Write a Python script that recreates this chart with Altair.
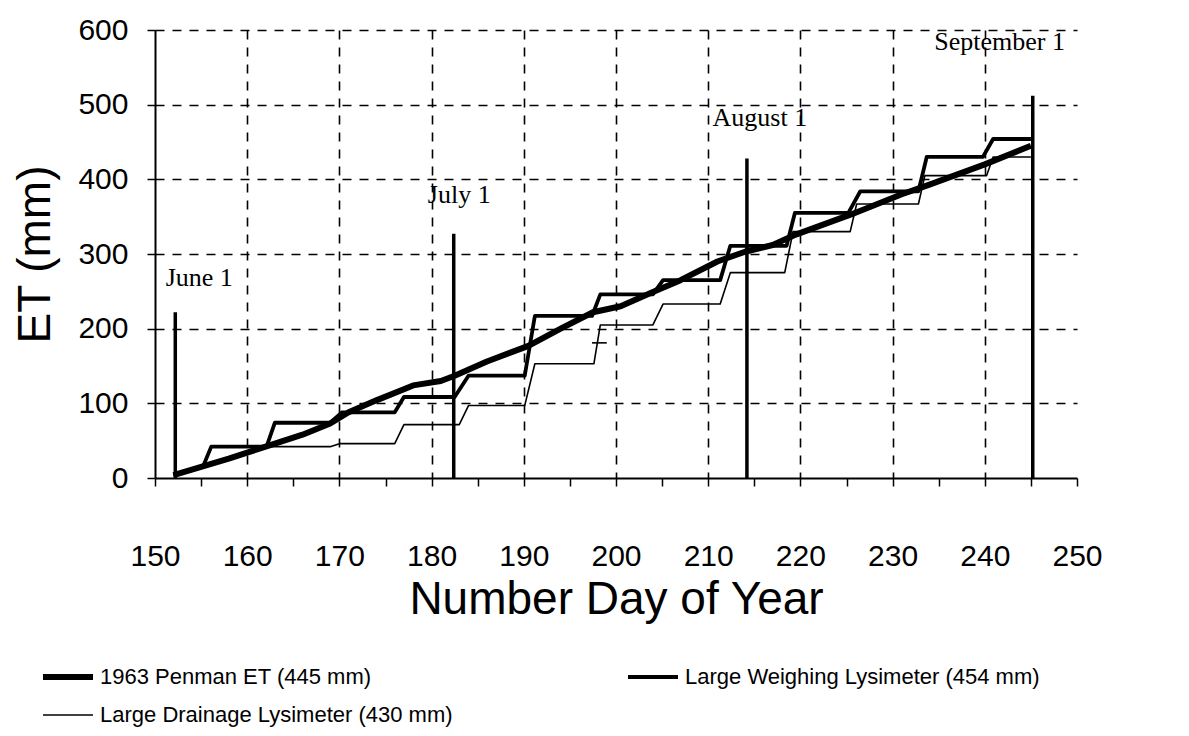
import altair as alt
import pandas as pd

# ---------------- data ----------------
series_names = [
    "1963 Penman ET (445 mm)",
    "Large Weighing Lysimeter (454 mm)",
    "Large Drainage Lysimeter (430 mm)",
]
# order in which the legend lists entries (filled column by column)
legend_order = [series_names[0], series_names[2], series_names[1]]

penman_day = [152, 155, 158, 160, 162, 166, 169, 171, 174, 178, 181, 182.5, 186, 190.5,
              194, 197.5, 200.5, 204, 207, 211, 214, 217, 219.5, 225.5, 231, 234, 240, 245]
penman_mm = [4, 15, 26, 34, 42, 58, 73, 88, 104, 124, 130, 137, 156, 177,
             200, 222, 230, 249, 265, 290, 303, 312, 326, 353, 380, 393, 420, 445]

weigh_day = [152, 155.2, 156.1, 162.1, 163, 169, 170.3, 176, 177, 182.5, 184, 190.1, 191.2,
             197.4, 198.3, 204, 205.1, 211.3, 212.4, 218.5, 219.4, 225.2, 226.5, 232.8,
             233.7, 239.8, 240.9, 245]
weigh_mm = [4, 15, 42, 42, 74, 74, 88, 88, 108.5, 108.5, 137, 137, 217,
            217, 246, 246, 265, 265, 311, 311, 355, 355, 384, 384,
            430, 430, 454, 454]

drain_day = [152, 155.2, 156.1, 169, 170, 176, 177, 183, 184, 190.1, 191.2, 197.6, 198.3,
             204, 205.1, 211.3, 212.4, 218.3, 219.2, 225.4, 226.1, 232.8, 233.5, 240.2,
             240.9, 245]
drain_mm = [4, 15, 42, 42, 46, 46, 71.5, 71.5, 97, 97, 153, 153, 205,
            205, 233, 233, 275, 275, 330, 330, 367, 367, 405, 405,
            430, 430]

drain_extra_day = [197.4, 199.0]
drain_extra_mm = [181, 181]

month_day = [152.2, 182.4, 214.2, 245.2]
month_top = [222, 327, 428, 512]
month_label = ["June 1", "July 1", "August 1", "September 1"]
label_day = [154.8, 183.0, 215.6, 241.6]
label_mm = [268, 379, 482, 584]

x_ticks = list(range(150, 251, 5))
y_ticks = list(range(0, 601, 100))

# ---------------- tables ----------------
rows = []
idx = 0
for d, m in zip(drain_day, drain_mm):
    rows.append({"series": series_names[2], "seg": "d1", "day": d, "mm": m, "i": idx}); idx += 1
for d, m in zip(drain_extra_day, drain_extra_mm):
    rows.append({"series": series_names[2], "seg": "d2", "day": d, "mm": m, "i": idx}); idx += 1
for d, m in zip(weigh_day, weigh_mm):
    rows.append({"series": series_names[1], "seg": "w1", "day": d, "mm": m, "i": idx}); idx += 1
for d, m in zip(penman_day, penman_mm):
    rows.append({"series": series_names[0], "seg": "p1", "day": d, "mm": m, "i": idx}); idx += 1
line_df = pd.DataFrame(rows)

month_df = pd.DataFrame({"day": month_day, "top": month_top, "base": [0] * 4,
                         "label": month_label, "lx": label_day, "ly": label_mm})

FONT = "Liberation Sans"
x_scale = alt.Scale(domain=[150, 250], nice=False, zero=False)
y_scale = alt.Scale(domain=[0, 600], nice=False)

x_axis = alt.Axis(
    values=x_ticks,
    labelExpr="datum.value % 10 == 0 ? datum.label : ''",
    labelOverlap=False,
    labelFlush=False,
    title="Number Day of Year",
    grid=True,
    gridOpacity={"condition": {"test": "datum.value % 10 == 0 && datum.value > 150 && datum.value < 250",
                               "value": 1}, "value": 0},
    labelPadding=55,
    titlePadding=6,
)
y_axis = alt.Axis(
    values=y_ticks,
    title="ET  (mm)",
    grid=True,
    gridOpacity={"condition": {"test": "datum.value > 0", "value": 1}, "value": 0},
    labelPadding=19,
    titlePadding=18,
)

lines = alt.Chart(line_df).mark_line(color="black", strokeCap="butt", strokeJoin="round").encode(
    x=alt.X("day:Q", scale=x_scale, axis=x_axis),
    y=alt.Y("mm:Q", scale=y_scale, axis=y_axis),
    strokeWidth=alt.StrokeWidth(
        "series:N",
        sort=series_names,
        scale=alt.Scale(type="point", domain=series_names, range=[6, 1.6], padding=0),
        legend=alt.Legend(
            title=None,
            values=legend_order,
            orient="none",
            legendX=-115,
            legendY=619,
            columns=2,
            columnPadding=167,
            rowPadding=-24,
            symbolType="stroke",
            symbolSize=2500,
            symbolStrokeColor="black",
            labelFont=FONT,
            labelFontSize=22,
            labelColor="black",
            labelLimit=600,
        ),
    ),
    detail="seg:N",
    order="i:Q",
)

rules = alt.Chart(month_df).mark_rule(color="black", strokeWidth=3.5).encode(
    x=alt.X("day:Q", scale=x_scale),
    y=alt.Y("base:Q", scale=y_scale),
    y2="top:Q",
)

labels = alt.Chart(month_df).mark_text(
    font="Liberation Serif", fontSize=26, color="black", align="center", baseline="middle"
).encode(
    x=alt.X("lx:Q", scale=x_scale),
    y=alt.Y("ly:Q", scale=y_scale),
    text="label:N",
)

chart = alt.layer(rules, lines, labels).properties(
    width=922,
    height=448,
    autosize=alt.AutoSizeParams(type="none"),
    padding={"left": 147, "top": 22, "right": 100, "bottom": 250},
    background="white",
).configure_view(stroke=None).configure_axis(
    labelFont=FONT,
    labelFontSize=30,
    labelColor="black",
    titleFont=FONT,
    titleFontSize=46,
    titleFontWeight="normal",
    titleColor="black",
    domainColor="black",
    domainWidth=2,
    tickColor="black",
    tickWidth=1.5,
    tickSize=8,
    gridColor="black",
    gridDash=[9, 8],
    gridWidth=1.6,
)

chart.save("out.html", embed_options={"renderer": "svg", "actions": False})
